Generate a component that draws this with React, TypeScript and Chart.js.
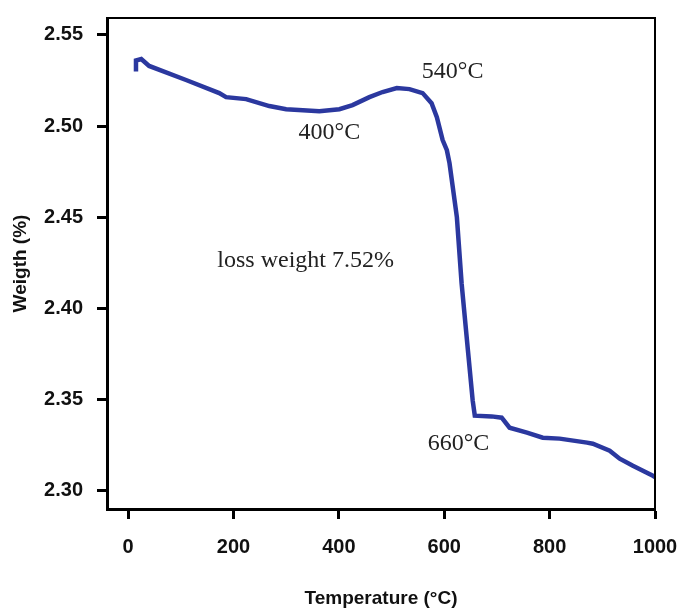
import { useEffect, useRef } from 'react';
import { Chart, registerables } from 'chart.js';

Chart.register(...registerables);

// Thermogravimetric curve: temperature (°C) vs weight (%)
const temperatures = [15, 15, 25, 40, 110, 173, 186, 224, 268, 300, 363, 401, 426, 458, 483, 510, 534, 559, 576, 586, 597, 605, 610, 624, 633, 645, 654, 658, 690, 709, 724, 757, 787, 819, 871, 882, 914, 933, 958, 996, 1000];
const weights = [2.5300, 2.5360, 2.5368, 2.5330, 2.5253, 2.5181, 2.5159, 2.5148, 2.5110, 2.5093, 2.5082, 2.5093, 2.5115, 2.5159, 2.5187, 2.5209, 2.5203, 2.5181, 2.5126, 2.5049, 2.4923, 2.4868, 2.4797, 2.4500, 2.4137, 2.3769, 2.3495, 2.3412, 2.3408, 2.3401, 2.3346, 2.3319, 2.3291, 2.3286, 2.3264, 2.3258, 2.3220, 2.3176, 2.3137, 2.3082, 2.3075];

const xTicks = [0, 200, 400, 600, 800, 1000];
const yTicks = [2.30, 2.35, 2.40, 2.45, 2.50, 2.55];

const noteTexts = ['540°C', '400°C', 'loss weight 7.52%', '660°C'];
const noteX = [616, 382, 337, 627];
const noteY = [2.5297, 2.4962, 2.4264, 2.3258];

const framePlugin = {
  id: 'frameAndNotes',
  afterDraw(chart: any) {
    const { ctx, chartArea, scales } = chart;
    ctx.save();
    ctx.strokeStyle = '#000';
    ctx.lineWidth = 2;
    ctx.beginPath();
    ctx.moveTo(chartArea.left, chartArea.top);
    ctx.lineTo(chartArea.right, chartArea.top);
    ctx.lineTo(chartArea.right, chartArea.bottom);
    ctx.stroke();
    ctx.fillStyle = '#222';
    ctx.font = '24px "Liberation Serif", "Times New Roman", serif';
    ctx.textAlign = 'center';
    ctx.textBaseline = 'middle';
    noteTexts.forEach((t, i) => {
      ctx.fillText(t, scales.x.getPixelForValue(noteX[i]), scales.y.getPixelForValue(noteY[i]));
    });
    ctx.restore();
  },
};

export default function App() {
  const ref = useRef<HTMLCanvasElement>(null);
  useEffect(() => {
    if (!ref.current) return;
    const chart = new Chart(ref.current, {
      type: 'line',
      data: {
        datasets: [
          {
            data: temperatures.map((t, i) => ({ x: t, y: weights[i] })),
            borderColor: '#2b389f',
            borderWidth: 4.5,
            pointRadius: 0,
            tension: 0,
            fill: false,
          },
        ],
      },
      options: {
        responsive: false,
        animation: false,
        layout: { padding: { top: 18, right: 26, left: 0, bottom: 0 } },
        plugins: { legend: { display: false }, tooltip: { enabled: false } },
        scales: {
          x: {
            type: 'linear',
            min: -40,
            max: 1000,
            afterFit: (s: any) => {
              s.height = 101;
              s.paddingLeft = 0;
              s.paddingRight = 0;
            },
            afterBuildTicks: (s: any) => { s.ticks = xTicks.map((v) => ({ value: v })); },
            grid: { drawOnChartArea: false, tickLength: 10, tickWidth: 3, tickColor: '#000' },
            border: { color: '#000', width: 3 },
            ticks: {
              color: '#111',
              padding: 16,
              maxRotation: 0,
              font: { family: '"Liberation Sans", Arial, sans-serif', size: 20, weight: 'bold' },
              callback: (v: any) => String(v),
            },
            title: {
              display: true,
              text: 'Temperature (°C)',
              color: '#111',
              padding: { top: 0, bottom: 0 },
              font: { family: '"Liberation Sans", Arial, sans-serif', size: 19, weight: 'bold' },
            },
          },
          y: {
            type: 'linear',
            min: 2.29,
            max: 2.5593,
            afterFit: (s: any) => {
              s.width = 107;
              s.paddingTop = 0;
              s.paddingBottom = 0;
            },
            afterBuildTicks: (s: any) => { s.ticks = yTicks.map((v) => ({ value: v })); },
            grid: { drawOnChartArea: false, tickLength: 10, tickWidth: 3, tickColor: '#000' },
            border: { color: '#000', width: 3 },
            ticks: {
              color: '#111',
              padding: 14,
              font: { family: '"Liberation Sans", Arial, sans-serif', size: 20, weight: 'bold' },
              callback: (v: any) => Number(v).toFixed(2),
            },
            title: {
              display: true,
              text: 'Weigth (%)',
              color: '#111',
              padding: { top: 9, bottom: 0 },
              font: { family: '"Liberation Sans", Arial, sans-serif', size: 19, weight: 'bold' },
            },
          },
        },
      },
      plugins: [framePlugin],
    });
    return () => chart.destroy();
  }, []);
  return (
    <div style={{ position: 'absolute', left: 0, top: 0, width: 681, height: 610, background: '#fff' }}>
      <canvas ref={ref} width={681} height={610} />
    </div>
  );
}
